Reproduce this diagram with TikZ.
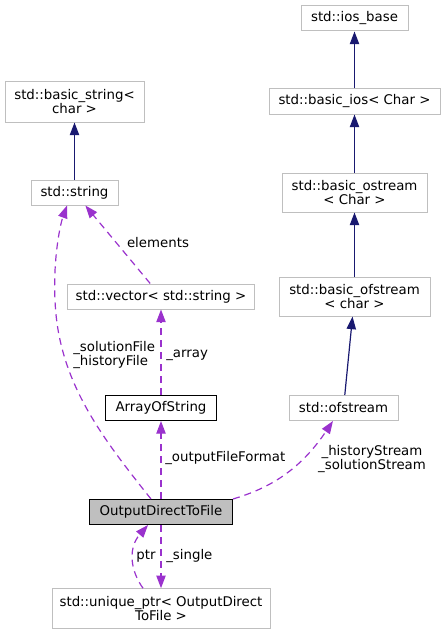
\documentclass[tikz,border=0pt]{standalone}
\usepackage{fontspec}
\setmainfont{DejaVu Sans}
\usepackage{tikz}
\usepackage{xcolor}
\usetikzlibrary{arrows.meta}

\definecolor{inhblue}{HTML}{191970}
\definecolor{usepurple}{HTML}{9A32CD}
\definecolor{boxgray}{HTML}{BFBFBF}

\begin{document}
\begin{tikzpicture}[x=0.75pt, y=-0.75pt, >={Triangle[length=9.5pt, width=7pt]},
    cls/.style={draw=boxgray, line width=0.75pt, inner sep=0pt, minimum height=18.75pt,
        font=\fontsize{10}{10.5}\selectfont, align=center},
    inh/.style={->, draw=inhblue, line width=0.9pt},
    use/.style={->, draw=usepurple, line width=0.9pt, dash pattern=on 5.25pt off 3.75pt},
    lbl/.style={font=\fontsize{10}{10.5}\selectfont, inner sep=0pt}]
    \useasboundingbox (0, 0) rectangle (445, 635);

    % Stream classes (right column)
    \node [cls, minimum width=80.25pt] (iosbase) at (354.5, 18.5) {std::ios\_base};
    \node [cls, minimum width=128.25pt] (basicios) at (354.5, 101.5) {std::basic\_ios< Char >};
    \node [cls, minimum width=108.75pt, minimum height=29.25pt] (ostream) at (354.5, 192.5) {std::basic\_ostream\\< Char >};
    \node [cls, minimum width=113.25pt, minimum height=29.25pt] (bofstream) at (354.5, 296.5) {std::basic\_ofstream\\< char >};
    \node [cls, minimum width=81.75pt] (ofstream) at (343.5, 408) {std::ofstream};

    % String classes (left column)
    \node [cls, minimum width=104.25pt, minimum height=30pt] (bstring) at (74.5, 102) {std::basic\_string<\\char >};
    \node [cls, minimum width=65.25pt] (string) at (74.5, 192.5) {std::string};
    \node [cls, minimum width=140.25pt] (vector) at (161, 296.5) {std::vector< std::string >};
    \node [cls, draw=black, minimum width=83.25pt] (aos) at (161, 408) {ArrayOfString};

    % Main class and pointer
    \node [cls, draw=black, fill=boxgray, minimum width=107.25pt] (odtf) at (161, 512) {OutputDirectToFile};
    \node [cls, minimum width=163.5pt, minimum height=30pt] (uptr) at (161, 608.7) {std::unique\_ptr< OutputDirect\\ToFile >};

    % Inheritance
    \draw [inh] (basicios) -- (iosbase);
    \draw [inh] (ostream) -- (basicios);
    \draw [inh] (bofstream) -- (ostream);
    \draw [inh] (ofstream) -- (bofstream);
    \draw [inh] (string) -- (bstring);

    % Usage
    \draw [use] (vector) -- (string);
    \node [lbl] at (158, 243) {elements};
    \draw [use] (aos) -- (vector);
    \node [lbl, anchor=west] at (166, 355) {\_array};
    \draw [use] (odtf) -- (aos);
    \node [lbl, anchor=west] at (165, 458) {\_outputFileFormat};
    \draw [use] ([xshift=-7.5pt]odtf.north) .. controls (100, 435) and (58, 380) .. (55, 300)
        .. controls (53, 260) and (60, 225) .. ([xshift=-5.6pt]string.south);
    \node [lbl, align=left, anchor=west] at (73, 355) {\_solutionFile\\\_historyFile};
    \draw [use] (odtf.north east) .. controls (270, 488) and (300, 470) .. ([xshift=-7.9pt]ofstream.south);
    \node [lbl, align=center] at (372, 459) {\_historyStream\\\_solutionStream};
    \draw [use] (odtf) -- (uptr);
    \node [lbl, anchor=west] at (166, 556) {\_single};
    \draw [use] ([xshift=-13.5pt]uptr.north) .. controls (130, 570) and (128, 548) .. ([xshift=-9.75pt]odtf.south);
    \node [lbl] at (146, 556) {ptr};
\end{tikzpicture}
\end{document}
